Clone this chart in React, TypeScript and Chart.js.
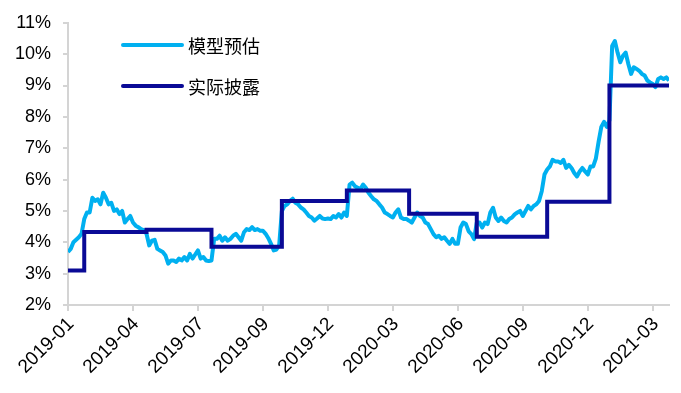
import React, { useEffect, useRef } from "react";
import { Chart, registerables } from "chart.js";

Chart.register(...registerables);

// x-axis tick labels (one every xTickStep observations)
const xTickLabels = [
  "2019-01", "2019-04", "2019-07", "2019-09", "2019-12",
  "2020-03", "2020-06", "2020-09", "2020-12", "2021-03",
];
const xTickStep = 24;

// 模型预估 (%), sampled observations
const modelValues = [
  3.69, 3.79, 4.0, 4.08, 4.16, 4.27, 4.74, 4.95, 4.95, 5.42,
  5.32, 5.37, 5.21, 5.58, 5.42, 5.21, 5.26, 5.0, 5.05, 4.9,
  5.0, 4.63, 4.74, 4.84, 4.63, 4.53, 4.48, 4.42, 4.39, 4.27,
  3.9, 4.05, 4.08, 3.79, 3.74, 3.69, 3.58, 3.32, 3.42, 3.42,
  3.37, 3.48, 3.42, 3.53, 3.42, 3.63, 3.48, 3.61, 3.74, 3.48,
  3.53, 3.42, 3.4, 3.42, 4.11, 4.11, 4.21, 4.05, 4.16, 4.05,
  4.11, 4.21, 4.27, 4.16, 4.05, 4.32, 4.42, 4.39, 4.48, 4.39,
  4.42, 4.37, 4.37, 4.27, 4.13, 3.95, 3.74, 3.77, 3.9, 5.0,
  5.16, 5.21, 5.32, 5.39, 5.26, 5.21, 5.11, 5.05, 4.95, 4.84,
  4.79, 4.69, 4.76, 4.84, 4.76, 4.74, 4.76, 4.74, 4.84, 4.79,
  4.9, 4.79, 4.95, 4.84, 5.84, 5.9, 5.79, 5.74, 5.69, 5.84,
  5.74, 5.58, 5.47, 5.37, 5.32, 5.21, 5.11, 4.95, 4.9, 4.84,
  4.79, 4.95, 5.05, 4.79, 4.74, 4.74, 4.69, 4.63, 4.79, 4.95,
  4.84, 4.79, 4.63, 4.58, 4.42, 4.26, 4.16, 4.21, 4.11, 4.16,
  4.05, 3.95, 4.11, 3.95, 3.95, 4.47, 4.63, 4.58, 4.35, 4.26,
  4.1, 4.63, 4.63, 4.47, 4.63, 4.58, 4.95, 5.1, 4.79, 4.68,
  4.79, 4.68, 4.63, 4.74, 4.79, 4.89, 4.95, 5.0, 4.84, 5.0,
  5.16, 5.05, 5.16, 5.21, 5.32, 5.63, 6.16, 6.32, 6.42, 6.63,
  6.58, 6.58, 6.53, 6.63, 6.37, 6.47, 6.37, 6.21, 6.1, 6.26,
  6.37, 6.26, 6.16, 6.42, 6.42, 6.68, 7.21, 7.68, 7.84, 7.68,
  7.89, 10.26, 10.42, 10.05, 9.74, 9.95, 10.05, 9.68, 9.37, 9.58,
  9.53, 9.47, 9.37, 9.32, 9.16, 9.1, 9.05, 8.95, 9.21, 9.26,
  9.21, 9.26, 9.16,
];

// 实际披露 (%): level and the observation index where it starts
const disclosureStarts = [0, 6, 29, 53, 79, 103, 126, 151, 177, 200];
const disclosureLevels = [3.1, 4.33, 4.4, 3.86, 5.32, 5.65, 4.91, 4.18, 5.29, 9.0];

const seriesNames = ["模型预估", "实际披露"];
const seriesColors = ["#00b0f0", "#0a0a96"];

const yMin = 2;
const yMax = 11;

function buildDisclosure(): number[] {
  const out: number[] = [];
  for (let i = 0; i < modelValues.length; i++) {
    let lvl = disclosureLevels[0];
    for (let k = 0; k < disclosureStarts.length; k++) {
      if (i >= disclosureStarts[k]) lvl = disclosureLevels[k];
    }
    out.push(lvl);
  }
  return out;
}

const legendPlugin = {
  id: "insideLegend",
  afterDatasetsDraw(chart: any) {
    const ctx = chart.ctx;
    const ds = chart.data.datasets;
    ctx.save();
    ds.forEach((d: any, i: number) => {
      const y = 45 + i * 41;
      ctx.strokeStyle = d.borderColor;
      ctx.lineWidth = 4;
      ctx.lineCap = "round";
      ctx.beginPath();
      ctx.moveTo(123, y);
      ctx.lineTo(182, y);
      ctx.stroke();
      ctx.fillStyle = "#000";
      ctx.font = '18px "Noto Sans CJK SC"';
      ctx.textBaseline = "middle";
      ctx.textAlign = "left";
      ctx.fillText(d.label, 188, y + 1);
    });
    ctx.restore();
  },
};

export default function App() {
  const ref = useRef<HTMLCanvasElement>(null);
  useEffect(() => {
    document.body.style.margin = "0";
    const disclosure = buildDisclosure();
    const chart = new Chart(ref.current!, {
      type: "line",
      data: {
        datasets: [
          {
            label: seriesNames[0],
            data: modelValues.map((v, i) => ({ x: i, y: v })),
            borderColor: seriesColors[0],
            backgroundColor: seriesColors[0],
            borderWidth: 4,
            borderJoinStyle: "round",
            pointRadius: 0,
            tension: 0,
            order: 1,
          },
          {
            label: seriesNames[1],
            data: disclosure.map((v, i) => ({ x: i, y: v })),
            borderColor: seriesColors[1],
            backgroundColor: seriesColors[1],
            borderWidth: 4,
            pointRadius: 0,
            stepped: true,
            order: 0,
          },
        ],
      },
      options: {
        responsive: false,
        animation: false,
        devicePixelRatio: 1,
        layout: { padding: { top: 20, right: 12, left: 0, bottom: 0 } },
        plugins: { legend: { display: false }, tooltip: { enabled: false } },
        scales: {
          x: {
            type: "linear",
            min: 0,
            max: modelValues.length - 1,
            grid: { display: true, drawOnChartArea: false, drawTicks: true, tickLength: 6, color: "#d4d4d4", lineWidth: 2 },
            border: { display: true, color: "#d4d4d4", width: 2 },
            ticks: {
              stepSize: xTickStep,
              includeBounds: false,
              autoSkip: false,
              maxRotation: 45,
              minRotation: 45,
              padding: 2,
              labelOffset: 3,
              color: "#000",
              font: { family: "Liberation Sans, Arial", size: 19 },
              callback: (v: any) => {
                const n = Number(v);
                if (n % xTickStep !== 0) return "";
                return xTickLabels[n / xTickStep] ?? "";
              },
            },
            afterFit: (s: any) => {
              s.height = 88;
            },
          },
          y: {
            min: yMin,
            max: yMax,
            grid: { display: true, drawOnChartArea: false, drawTicks: true, tickLength: 5, color: "#d4d4d4", lineWidth: 2 },
            border: { display: true, color: "#d4d4d4", width: 2 },
            ticks: {
              stepSize: 1,
              padding: 12,
              color: "#000",
              font: { family: "Liberation Sans, Arial", size: 18 },
              callback: (v: any) => `${v}%`,
            },
            afterFit: (s: any) => {
              s.width = 68;
            },
          },
        },
      },
      plugins: [legendPlugin],
    });
    return () => chart.destroy();
  }, []);
  return (
    <div style={{ width: 681, height: 393 }}>
      <canvas ref={ref} width={681} height={393} />
    </div>
  );
}
